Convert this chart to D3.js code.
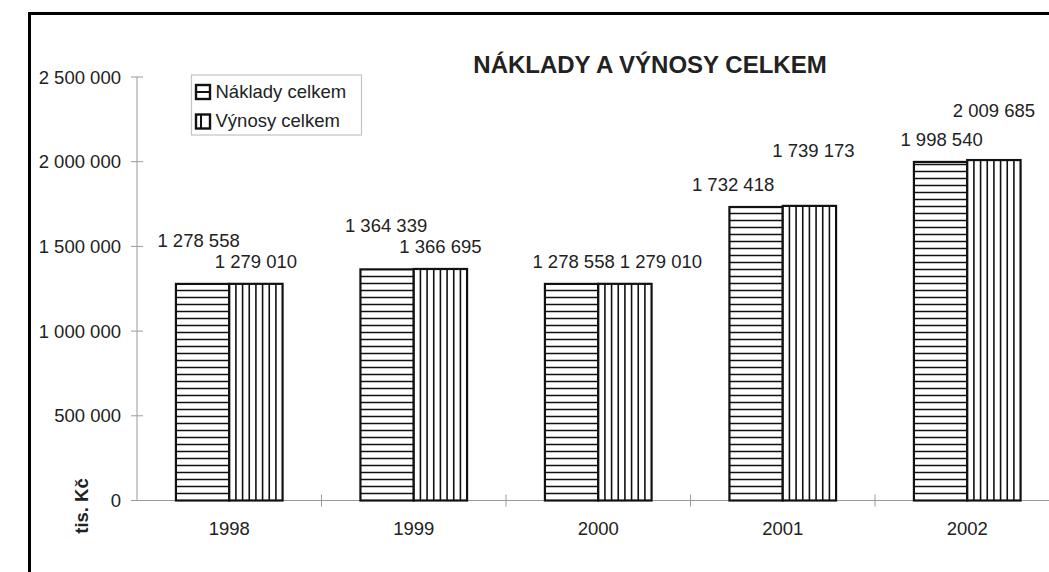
<!DOCTYPE html>
<html>
<head>
<meta charset="utf-8">
<script src="https://cdn.jsdelivr.net/npm/d3@7"></script>
<style>
  html, body { margin: 0; padding: 0; background: #fff; overflow: hidden; width: 1049px; height: 572px; }
  svg { display: block; }
  text { font-family: "Liberation Sans", Arial, sans-serif; fill: #222; }
</style>
</head>
<body>
<svg id="chart" width="1049" height="572"></svg>
<script>
// ---- data ----
const categories = ["1998", "1999", "2000", "2001", "2002"];
const seriesNames = ["Náklady celkem", "Výnosy celkem"];
const naklady = [1278558, 1364339, 1278558, 1732418, 1998540];
const vynosy  = [1279010, 1366695, 1279010, 1739173, 2009685];
const yTicks = [0, 500000, 1000000, 1500000, 2000000, 2500000];
const titleText = "NÁKLADY A VÝNOSY CELKEM";
const yTitle = "tis. Kč";

// manual label nudges (layout only, as in the original chart) [dx, dy] per series per category
const labelNudge = [
  [[-4, -21], [-1, -21], [2, 0], [-23, 0], [1, 0]],
  [[0, 0], [0, 0], [36, 0], [4, -33], [0, -27]]
];

const svg = d3.select("#chart");
const fmt = v => d3.format(",")(v).replace(/,/g, " ");

// frame (left and top edges only; right/bottom fall outside the picture)
svg.append("path").attr("d", "M29.5,600 L29.5,13.5 L1100,13.5")
  .attr("fill", "none").attr("stroke", "#000").attr("stroke-width", 3);

const y = d3.scaleLinear().domain([0, 2500000]).range([500.5, 77]);
const x0 = d3.scaleBand().domain(categories).range([137, 1059.5]).padding(0);
const x1 = d3.scaleBand().domain(seriesNames).range([0, x0.bandwidth()]).paddingInner(0).paddingOuter(0.73);

const axisColor = "#9a9a9a";

// y axis
const yAxis = svg.append("g");
yAxis.append("line").attr("x1", 137).attr("x2", 137).attr("y1", y(2500000)).attr("y2", y(0))
  .attr("stroke", axisColor).attr("stroke-width", 1);
yAxis.selectAll("line.tick").data(yTicks).enter().append("line")
  .attr("x1", 131).attr("x2", 143).attr("y1", d => y(d)).attr("y2", d => y(d))
  .attr("stroke", axisColor).attr("stroke-width", 1);
yAxis.selectAll("text").data(yTicks).enter().append("text")
  .attr("x", 121).attr("y", d => y(d)).attr("dy", "0.36em")
  .attr("text-anchor", "end").style("font-size", "18.5px")
  .text(d => fmt(d));

// x axis
const xAxis = svg.append("g");
xAxis.append("line").attr("x1", 137).attr("x2", 1060).attr("y1", y(0)).attr("y2", y(0))
  .attr("stroke", axisColor).attr("stroke-width", 1);
xAxis.selectAll("line.tick").data(categories.slice(1)).enter().append("line")
  .attr("x1", d => x0(d)).attr("x2", d => x0(d)).attr("y1", y(0) - 6).attr("y2", y(0) + 6)
  .attr("stroke", axisColor).attr("stroke-width", 1);
xAxis.selectAll("text").data(categories).enter().append("text")
  .attr("x", d => x0(d) + x0.bandwidth() / 2).attr("y", 535)
  .attr("text-anchor", "middle").style("font-size", "18.5px")
  .text(d => d);

// bars
const seriesValues = [naklady, vynosy];
const bars = [];
seriesValues.forEach((vals, si) => {
  vals.forEach((v, ci) => {
    bars.push({ si, ci, v, cat: categories[ci], name: seriesNames[si] });
  });
});

const barG = svg.append("g");
bars.forEach(b => {
  const bx = x0(b.cat) + x1(b.name);
  const bw = x1.bandwidth();
  const top = y(b.v), bottom = y(0);
  const g = barG.append("g");
  g.append("rect").attr("x", bx).attr("y", top).attr("width", bw).attr("height", bottom - top)
    .attr("fill", "#fff");
  if (b.si === 0) {
    const step = 7;
    const ys = d3.range(bottom - step, top + 2, -step);
    g.selectAll("line").data(ys).enter().append("line")
      .attr("x1", bx).attr("x2", bx + bw).attr("y1", d => d).attr("y2", d => d)
      .attr("stroke", "#111").attr("stroke-width", 1.6);
  } else {
    const n = 8;
    const xs = d3.range(1, n).map(i => bx + i * bw / n);
    g.selectAll("line").data(xs).enter().append("line")
      .attr("x1", d => d).attr("x2", d => d).attr("y1", top).attr("y2", bottom)
      .attr("stroke", "#111").attr("stroke-width", 1.6);
  }
  g.append("rect").attr("x", bx).attr("y", top).attr("width", bw).attr("height", bottom - top)
    .attr("fill", "none").attr("stroke", "#111").attr("stroke-width", 2.2);
  // label
  const nd = labelNudge[b.si][b.ci];
  svg.append("text")
    .attr("x", bx + bw / 2 + nd[0]).attr("y", top - 16 + nd[1])
    .attr("text-anchor", "middle").style("font-size", "18.5px")
    .text(fmt(b.v));
});

// title
svg.append("text").attr("x", 650).attr("y", 73).attr("text-anchor", "middle")
  .style("font-size", "24px").style("font-weight", "bold").text(titleText);

// y title
svg.append("text").attr("transform", "translate(88,506) rotate(-90)")
  .attr("text-anchor", "middle").style("font-size", "18.5px").style("font-weight", "bold")
  .text(yTitle);

// legend
const lg = svg.append("g");
lg.append("rect").attr("x", 191.5).attr("y", 75).attr("width", 170).attr("height", 60)
  .attr("fill", "#fff").attr("stroke", "#c4c4c4").attr("stroke-width", 1.2);
seriesNames.forEach((name, i) => {
  const sy = 85 + i * 29.5;
  const sx = 196, ss = 14;
  lg.append("rect").attr("x", sx).attr("y", sy).attr("width", ss).attr("height", ss)
    .attr("fill", "#fff").attr("stroke", "#111").attr("stroke-width", 2.4);
  if (i === 0) {
    lg.append("line").attr("x1", sx).attr("x2", sx + ss).attr("y1", sy + ss / 2).attr("y2", sy + ss / 2)
      .attr("stroke", "#111").attr("stroke-width", 2);
  } else {
    lg.append("line").attr("x1", sx + 5).attr("x2", sx + 5).attr("y1", sy).attr("y2", sy + ss)
      .attr("stroke", "#111").attr("stroke-width", 2);
  }
  lg.append("text").attr("x", 215.5).attr("y", sy + 12.5).style("font-size", "18.5px").text(name);
});
</script>
</body>
</html>
